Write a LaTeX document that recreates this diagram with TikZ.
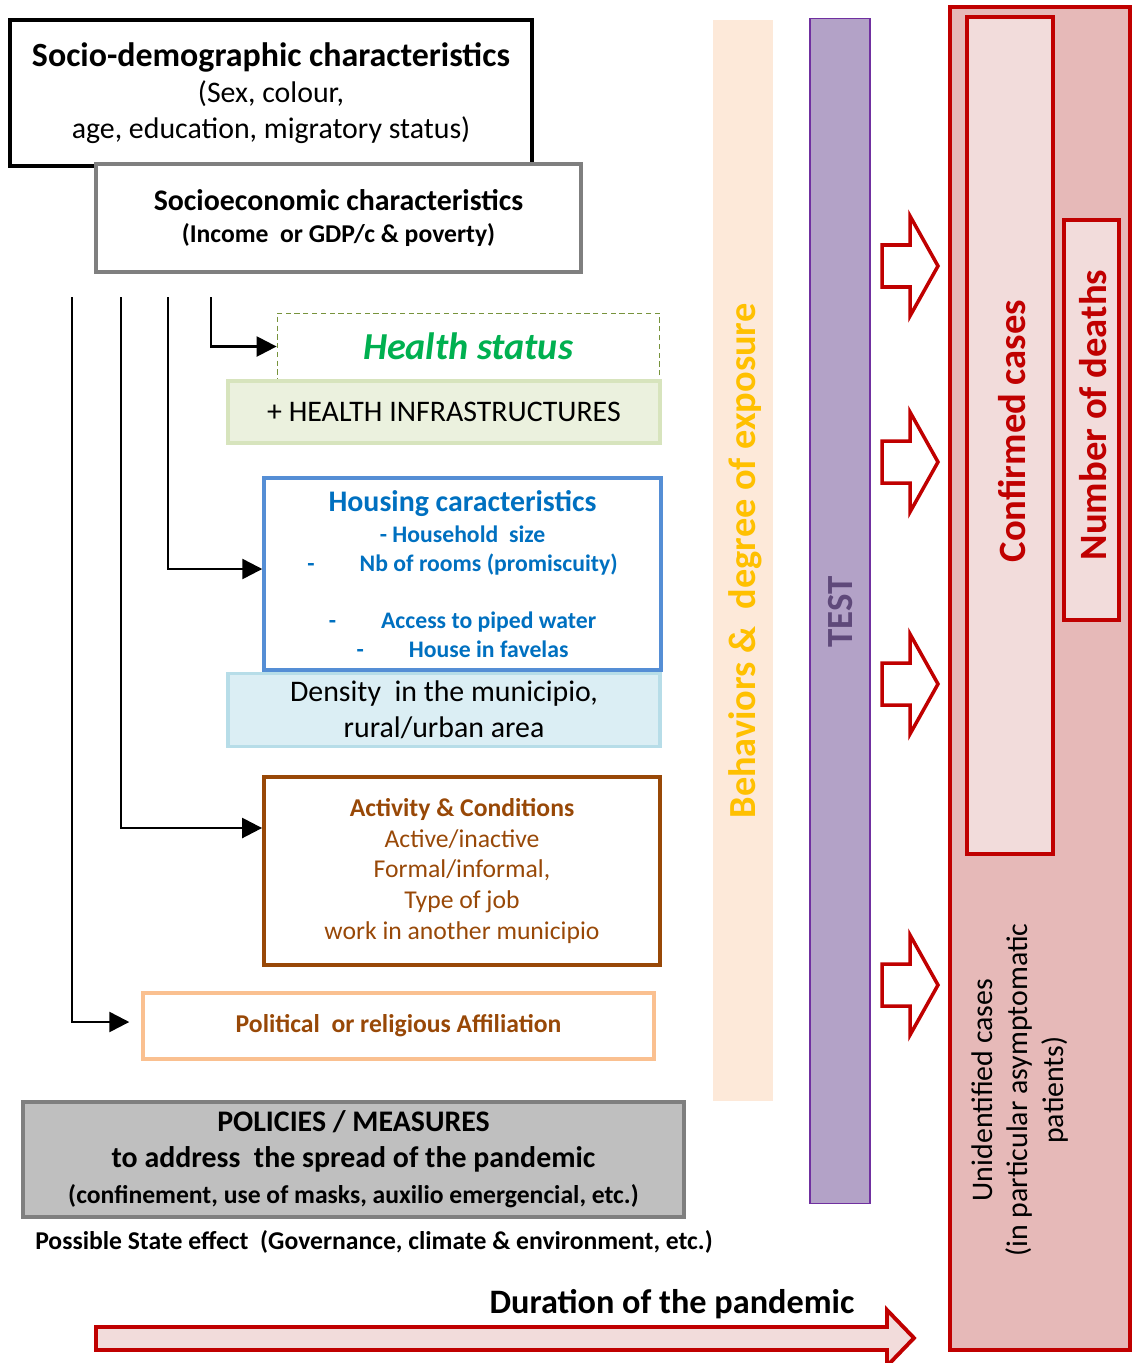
\documentclass[tikz,border=0pt]{standalone}
\usepackage{fontspec}
\setmainfont{Carlito}
\usetikzlibrary{arrows.meta}

\definecolor{darkred}{HTML}{C00000}
\definecolor{redfill}{HTML}{E6B9B8}
\definecolor{pinkfill}{HTML}{F2DCDB}
\definecolor{healthgreen}{HTML}{00B050}
\definecolor{olive}{HTML}{77933C}
\definecolor{infrafill}{HTML}{EBF1DE}
\definecolor{infraline}{HTML}{D7E4BD}
\definecolor{houseblue}{HTML}{0070C0}
\definecolor{houseline}{HTML}{558ED5}
\definecolor{densfill}{HTML}{DBEEF4}
\definecolor{densline}{HTML}{B7DDE8}
\definecolor{brown}{HTML}{984807}
\definecolor{peach}{HTML}{FAC090}
\definecolor{behavfill}{HTML}{FDE9D9}
\definecolor{gold}{HTML}{FFC000}
\definecolor{testfill}{HTML}{B3A2C7}
\definecolor{testline}{HTML}{7030A0}
\definecolor{testtext}{HTML}{5F497A}
\definecolor{policyfill}{HTML}{BFBFBF}
\definecolor{policyline}{HTML}{7F7F7F}

\begin{document}
\begin{tikzpicture}[x=0.02cm,y=-0.02cm,
    box/.style={draw, align=center, inner sep=0pt},
    link/.style={-{Triangle[length=0.4cm,width=0.4cm]}, line width=1.4pt},
    redbox/.style={box, draw=darkred, line width=2.2pt},
    hollow/.style={draw=darkred, line width=2pt, fill=white, line join=miter},
  ]
  \useasboundingbox (0,0) rectangle (1132,1363);

  % left column
  \node[box, line width=2.2pt, minimum width=10.44cm, minimum height=2.92cm,
    font=\fontsize{17}{20.5}\selectfont] at (271,93) (sociodemo)
    {{\fontsize{19.3}{21.5}\selectfont\bfseries Socio-demographic characteristics}\\ (Sex, colour,\\ age, education, migratory status)};
  \node[box, draw=policyline, fill=white, line width=2pt, minimum width=9.7cm, minimum height=2.16cm,
    font=\bfseries\fontsize{14.6}{18.5}\selectfont] at (338.5,218) (socioeco)
    {{\fontsize{17}{18.5}\selectfont Socioeconomic characteristics}\\ (Income~ or GDP/c \& poverty)};

  \node[box, draw=olive, densely dashed, line width=0.5pt, minimum width=7.64cm, minimum height=1.34cm,
    text=healthgreen, font=\bfseries\itshape\fontsize{21.7}{24}\selectfont] at (468,346.5) (health) {Health status};
  \node[box, draw=infraline, fill=infrafill, line width=2pt, minimum width=8.64cm, minimum height=1.24cm,
    font=\fontsize{17}{20}\selectfont] at (444,412) (infra) {+ HEALTH INFRASTRUCTURES};

  \node[box, draw=houseline, line width=2pt, minimum width=7.94cm, minimum height=3.84cm,
    text=houseblue, font=\bfseries\fontsize{13.5}{16.3}\selectfont] at (462.5,574) (housing)
    {{\fontsize{17}{19}\selectfont Housing caracteristics}\\[0.1em]
     - Household~ size\\
     -\hspace{1.9em}Nb of rooms (promiscuity)\\ ~\\
     -\hspace{1.9em}Access to piped water\\
     -\hspace{1.9em}House in favelas};
  \node[box, draw=densline, fill=densfill, line width=2pt, minimum width=8.64cm, minimum height=1.46cm,
    font=\fontsize{17}{20.5}\selectfont] at (444,710) (density) {Density~ in the municipio,\\ rural/urban area};

  \node[box, draw=brown, line width=2.2pt, minimum width=7.92cm, minimum height=3.76cm,
    text=brown, font=\fontsize{14.6}{17.6}\selectfont] at (462,871) (activity)
    {\textbf{Activity \& Conditions}\\ Active/inactive\\ Formal/informal,\\ Type of job\\ work in another municipio};

  \node[box, draw=peach, line width=2pt, minimum width=10.22cm, minimum height=1.32cm,
    text=brown, font=\bfseries\fontsize{14.6}{17}\selectfont] at (398.5,1026) (political) {Political~ or religious Affiliation};

  \node[box, draw=policyline, fill=policyfill, line width=2.2pt, minimum width=13.22cm, minimum height=2.3cm,
    font=\bfseries\fontsize{17}{20.5}\selectfont] at (353.5,1159.5) (policies)
    {POLICIES / MEASURES\\ to address~ the spread of the pandemic\\ {\fontsize{14.6}{18.5}\selectfont(confinement, use of masks, auxilio emergencial, etc.)}};
  \node[font=\bfseries\fontsize{14.6}{17}\selectfont] at (374,1242) (state)
    {Possible State effect~ (Governance, climate \& environment, etc.)};

  % links from the socioeconomic block
  \coordinate (s1) at (72,297);
  \coordinate (s2) at (121,297);
  \coordinate (s3) at (168,297);
  \coordinate (s4) at (211,297);
  \draw[link] (s4) |- (health.west);
  \draw[link] (s3) |- ([yshift=0.1cm]housing.west);
  \draw[link] (s2) |- ([yshift=0.86cm]activity.west);
  \draw[link, shorten >=0.24cm] (s1) |- ([yshift=0.08cm]political.west);

  % vertical bars
  \node[fill=behavfill, minimum width=1.2cm, minimum height=21.62cm, inner sep=0pt] at (743,560.5) (behav) {};
  \node[rotate=90, text=gold, font=\bfseries\fontsize{21.8}{24}\selectfont] at (745,561) (behavtxt)
    {Behaviors \&~ degree of exposure};
  \node[draw=testline, fill=testfill, line width=0.6pt, minimum width=1.2cm, minimum height=23.72cm, inner sep=0pt] at (840,611) (test) {};
  \node[rotate=90, text=testtext, font=\bfseries\fontsize{21}{24}\selectfont] at (841,612) (testtxt) {TEST};

  % hollow arrows
  \foreach \y in {266,462,684,985}
    \draw[hollow] (882,{\y-21}) -- (910,{\y-21}) -- (910,{\y-50}) -- (938,\y)
      -- (910,{\y+50}) -- (910,{\y+21}) -- (882,{\y+21}) -- cycle;

  % cases
  \node[redbox, fill=redfill, minimum width=3.6cm, minimum height=26.86cm] at (1040,678.5) (allcases) {};
  \node[redbox, fill=pinkfill, minimum width=1.72cm, minimum height=16.74cm] at (1010,435.5) (confirmed) {};
  \node[rotate=90, text=darkred, font=\bfseries\fontsize{22}{24}\selectfont] at (1012,431) {Confirmed cases};
  \node[redbox, fill=pinkfill, minimum width=1.1cm, minimum height=8cm] at (1091.5,420) (deaths) {};
  \node[rotate=90, text=darkred, font=\bfseries\fontsize{22}{24}\selectfont] at (1093,415) {Number of deaths};
  \node[rotate=90, align=center, font=\fontsize{17}{20}\selectfont] at (1020,1090) (unident)
    {Unidentified cases\\ (in particular asymptomatic\\ patients)};

  % duration
  \node[font=\bfseries\fontsize{19.5}{22}\selectfont] at (672,1304) (duration) {Duration of the pandemic};
  \draw[draw=darkred, fill=pinkfill, line width=2.2pt] (96,1327) -- (887,1327) -- (887,1310) -- (914,1338)
    -- (887,1366) -- (887,1350) -- (96,1350) -- cycle;
\end{tikzpicture}
\end{document}
